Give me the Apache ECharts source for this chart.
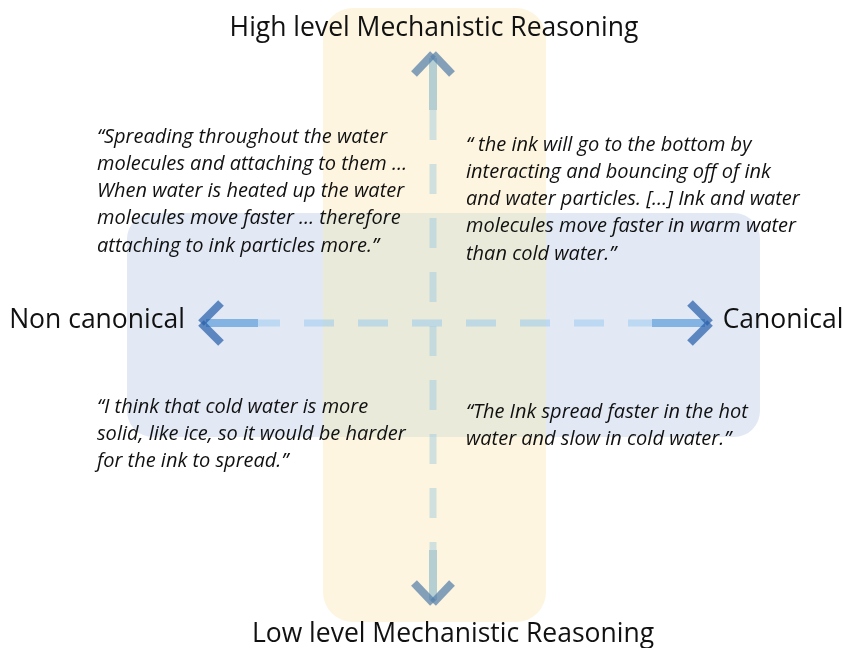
<!DOCTYPE html>
<html>
<head>
<meta charset="utf-8">
<script src="https://cdn.jsdelivr.net/npm/echarts@6/dist/echarts.min.js"></script>
<style>
  html, body { margin: 0; padding: 0; background: #fff; }
  #chart { width: 845px; height: 648px; }
</style>
</head>
<body>
<div id="chart"></div>
<script>
// axis titles (top, bottom, left, right)
const axisTitles = ['High level Mechanistic Reasoning', 'Low level Mechanistic Reasoning', 'Non canonical', 'Canonical']

// student quotes per quadrant
const quoteTopLeft = [
  '\u201CSpreading throughout the water',
  'molecules and attaching to them \u2026',
  'When water is heated up the water',
  'molecules move faster \u2026 therefore',
  'attaching to ink particles more.\u201D'
]
const quoteTopRight = [
  '\u201C the ink will go to the bottom by',
  'interacting and bouncing off of ink',
  'and water particles. [\u2026] Ink and water',
  'molecules move faster in warm water',
  'than cold water.\u201D'
]
const quoteBottomLeft = [
  '\u201CI think that cold water is more',
  'solid, like ice, so it would be harder',
  'for the ink to spread.\u201D'
]
const quoteBottomRight = [
  '\u201CThe Ink spread faster in the hot',
  'water and slow in cold water.\u201D'
]

// layout (canvas-like coordinates on a hidden value grid)
const W = 845
const H = 648
const centre = [433, 323]
const titleAnchors = [[434, 28], [453, 634], [97, 320], [783, 320]]
const quoteAnchors = [[97, 137], [466, 145], [97, 407], [466, 412]]
const lineGap = 27.2

const quotes = [quoteTopLeft, quoteTopRight, quoteBottomLeft, quoteBottomRight]
const quoteData = []
quotes.forEach((q, qi) => {
  q.forEach((line, li) => {
    quoteData.push([quoteAnchors[qi][0], quoteAnchors[qi][1] + li * lineGap, line])
  })
})
const titleData = axisTitles.map((t, i) => [titleAnchors[i][0], titleAnchors[i][1], t])

const chart = echarts.init(document.getElementById('chart'), null, { renderer: 'canvas' })

function rectItem (params, api) {
  const p0 = api.coord([api.value(0), api.value(1)])
  const p1 = api.coord([api.value(2), api.value(3)])
  return {
    type: 'rect',
    shape: { x: p0[0], y: p0[1], width: p1[0] - p0[0], height: p1[1] - p0[1], r: api.value(4) },
    style: { fill: api.value(5) }
  }
}

function chevronItem (params, api) {
  const tip = api.coord([api.value(0), api.value(1)])
  const a = api.coord([api.value(2), api.value(3)])
  const b = api.coord([api.value(4), api.value(5)])
  const color = api.value(6)
  const arm = (p) => ({
    type: 'line',
    shape: { x1: tip[0], y1: tip[1], x2: p[0], y2: p[1] },
    style: { stroke: color, lineWidth: 8, lineCap: 'butt' }
  })
  return { type: 'group', children: [arm(a), arm(b)] }
}

function textItem (size, style) {
  return function (params, api) {
    const p = api.coord([api.value(0), api.value(1)])
    return {
      type: 'text',
      x: p[0],
      y: p[1],
      style: {
        text: api.value(2),
        fontSize: size,
        fontStyle: style,
        fontFamily: '"Open Sans", "Noto Sans", sans-serif',
        fill: '#111',
        align: style === 'italic' ? 'left' : 'center',
        verticalAlign: 'middle'
      }
    }
  }
}

chart.setOption({
  animation: false,
  grid: { left: 0, right: 0, top: 0, bottom: 0 },
  xAxis: { type: 'value', min: 0, max: W, show: false },
  yAxis: { type: 'value', min: 0, max: H, inverse: true, show: false },
  series: [
    {
      type: 'custom',
      z: 1,
      renderItem: rectItem,
      encode: { x: [0, 2], y: [1, 3] },
      data: [
        [127, 213, 760, 437, 26, '#e2e9f5'],
        [323, 8, 546, 622, 30, '#fdf5df'],
        [323, 213, 546, 437, 0, '#e9ead9']
      ]
    },
    // dashed axes
    {
      type: 'line', z: 2, symbol: 'none', silent: true,
      lineStyle: { color: 'rgba(150,200,240,0.5)', width: 7, type: [30, 24], dashOffset: 8, cap: 'butt' },
      data: [[258, centre[1]], [652, centre[1]]]
    },
    {
      type: 'line', z: 2, symbol: 'none', silent: true,
      lineStyle: { color: 'rgba(150,200,225,0.45)', width: 7, type: [30, 24], cap: 'butt' },
      data: [[centre[0], 110], [centre[0], 550]]
    },
    // solid shafts
    {
      type: 'line', z: 3, symbol: 'none', silent: true,
      lineStyle: { color: 'rgba(80,150,215,0.65)', width: 8, cap: 'butt' },
      data: [[206, centre[1]], [258, centre[1]], null, [652, centre[1]], [705, centre[1]]],
      connectNulls: false
    },
    {
      type: 'line', z: 3, symbol: 'none', silent: true,
      lineStyle: { color: 'rgba(91,160,195,0.45)', width: 8, cap: 'butt' },
      data: [[centre[0], 58], [centre[0], 110], null, [centre[0], 550], [centre[0], 600]],
      connectNulls: false
    },
    // arrow heads
    {
      type: 'custom',
      z: 4,
      renderItem: chevronItem,
      encode: { x: 0, y: 1 },
      data: [
        [201, 323, 221, 303, 221, 343, 'rgba(40,95,170,0.72)'],
        [710, 323, 690, 303, 690, 343, 'rgba(40,95,170,0.72)'],
        [433, 54, 414, 74, 452, 74, 'rgba(85,128,171,0.72)'],
        [433, 603, 414, 583, 452, 583, 'rgba(85,128,171,0.72)']
      ]
    },
    {
      type: 'custom',
      z: 5,
      renderItem: textItem(26.5, 'normal'),
      encode: { x: 0, y: 1 },
      data: titleData
    },
    {
      type: 'custom',
      z: 5,
      renderItem: textItem(20, 'italic'),
      encode: { x: 0, y: 1 },
      data: quoteData
    }
  ]
})
</script>
</body>
</html>
